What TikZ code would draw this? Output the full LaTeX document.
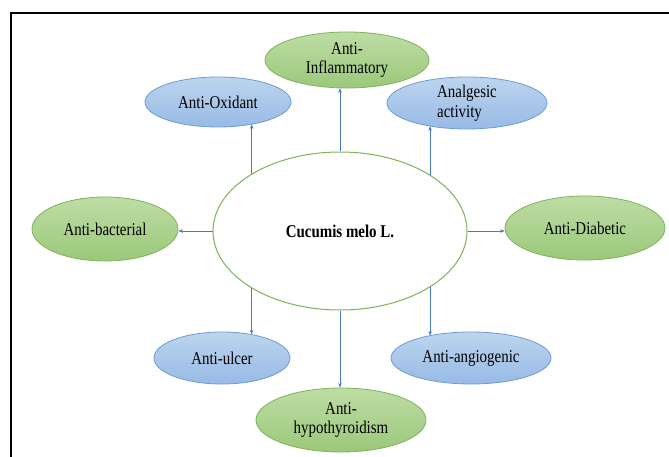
\documentclass[tikz,border=0pt]{standalone}
\usepackage{fontspec}
\setmainfont[FakeStretch=0.83]{Liberation Serif}
\usetikzlibrary{shapes.geometric,arrows.meta}
\definecolor{bluetop}{HTML}{BDD5EE}
\definecolor{bluebot}{HTML}{98BAE5}
\definecolor{blueline}{HTML}{6D9BD3}
\definecolor{greentop}{HTML}{BEDDA5}
\definecolor{greenbot}{HTML}{9BC87A}
\definecolor{greenline}{HTML}{7DB35A}
\definecolor{arrowblue}{HTML}{4A78C8}
\begin{document}
\begin{tikzpicture}[x=1pt,y=-1pt,
  bubble/.style={ellipse,inner sep=0pt,line width=0.8pt,font=\fontsize{18}{19.5}\selectfont,align=center},
  bluebub/.style={bubble,draw=blueline,top color=bluetop,bottom color=bluebot},
  greenbub/.style={bubble,draw=greenline,top color=greentop,bottom color=greenbot},
  link/.style={draw=arrowblue,line width=0.6pt,-{Stealth[length=4.5pt,width=3.5pt]}}]
\useasboundingbox (0,0) rectangle (669,457);
\draw[line width=2pt] (11,457) -- (11,13) -- (669,13);
\node[bubble,draw=greenline,fill=white,line width=1pt,minimum width=254pt,minimum height=158pt,font=\bfseries\fontsize{18}{19.5}\selectfont] (cucumis) at (340,231) {Cucumis melo L.};
\node[greenbub,minimum width=164pt,minimum height=56pt] (inflam) at (347,60) {Anti-\\Inflammatory};
\node[bluebub,minimum width=146pt,minimum height=50pt] (oxidant) at (218,102) {Anti-Oxidant};
\node[bluebub,minimum width=160pt,minimum height=52pt,align=left] (analgesic) at (467,103) {Analgesic\\activity};
\node[greenbub,minimum width=146pt,minimum height=64pt] (bacterial) at (105,229) {Anti-bacterial};
\node[greenbub,minimum width=160pt,minimum height=64pt] (diabetic) at (585,228) {Anti-Diabetic};
\node[bluebub,minimum width=136pt,minimum height=52pt] (ulcer) at (222,358) {Anti-ulcer};
\node[bluebub,minimum width=160pt,minimum height=52pt] (angio) at (471,358) {Anti-angiogenic};
\node[greenbub,minimum width=170pt,minimum height=64pt] (hypo) at (341,420) {Anti-\\hypothyroidism};
\draw[link] (cucumis.north) -- (cucumis.north |- inflam.south);
\draw[link] (cucumis.147) -- (cucumis.147 |- oxidant.-33);
\draw[link] (cucumis.32) -- (cucumis.32 |- analgesic.211);
\draw[link] (cucumis.west) -- (cucumis.west -| bacterial.east);
\draw[link] (cucumis.east) -- (cucumis.east -| diabetic.west);
\draw[link] (cucumis.213) -- (cucumis.213 |- ulcer.38);
\draw[link] (cucumis.-32) -- (cucumis.-32 |- angio.152);
\draw[link] (cucumis.south) -- (cucumis.south |- hypo.north);
\end{tikzpicture}
\end{document}
